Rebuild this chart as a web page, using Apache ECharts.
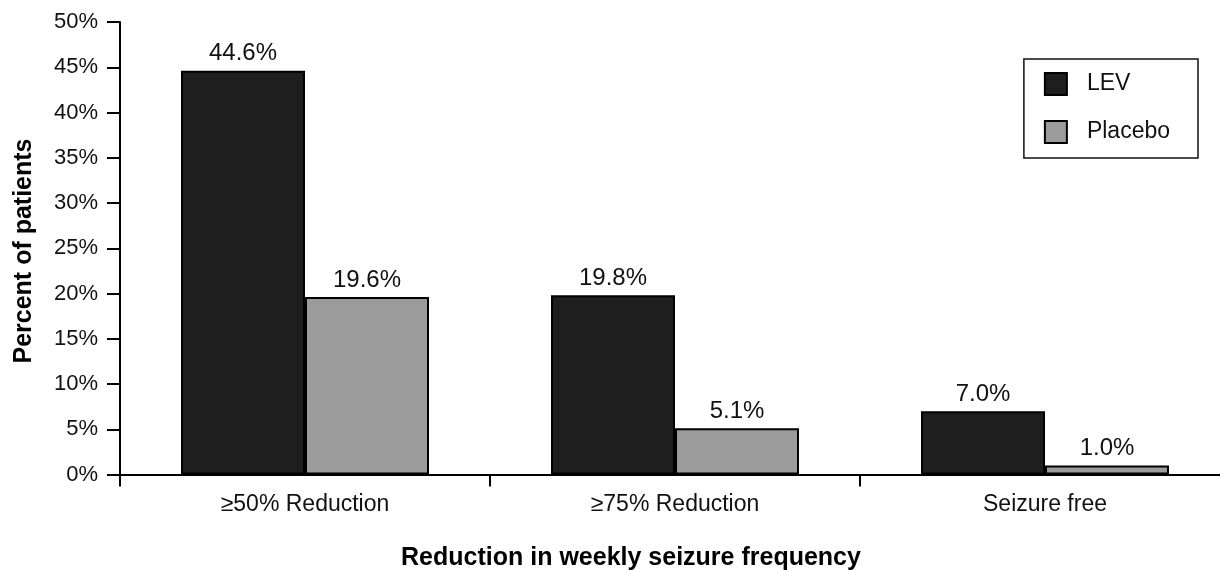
<!DOCTYPE html>
<html><head><meta charset="utf-8">
<script src="https://cdn.jsdelivr.net/npm/echarts@6/dist/echarts.min.js"></script>
<style>html,body{margin:0;padding:0;background:#fff;overflow:hidden;width:1220px;height:570px}#c{width:1230px;height:570px}</style>
</head><body><div id="c"></div>
<script>
const categories = ['≥50% Reduction', '≥75% Reduction', 'Seizure free'];
const levValues = [44.6, 19.8, 7.0];
const placeboValues = [19.6, 5.1, 1.0];
const seriesNames = ['LEV', 'Placebo'];
const yTicks = [0, 5, 10, 15, 20, 25, 30, 35, 40, 45, 50];
const yAxisTitle = 'Percent of patients';
const xAxisTitle = 'Reduction in weekly seizure frequency';

const F = '"Liberation Sans", Arial, Helvetica, sans-serif';
const chart = echarts.init(document.getElementById('c'));
const lbl = {show: true, position: 'top', distance: 5, color: '#111', fontFamily: F, fontSize: 24,
  formatter: p => p.value.toFixed(1) + '%'};
chart.setOption({
  animation: false,
  textStyle: {fontFamily: F},
  grid: {left: 120, right: 0, top: 22, bottom: 95.5, containLabel: false},
  legend: {
    data: seriesNames, orient: 'vertical', right: 32, top: 59,
    itemWidth: 22, itemHeight: 22, itemGap: 24,
    padding: [13, 28, 14, 20],
    borderColor: '#111', borderWidth: 1.5,
    textStyle: {fontSize: 23, color: '#111', fontFamily: F, padding: [0, 0, 0, 15]},
    icon: 'rect',
    itemStyle: {borderColor: '#000', borderWidth: 2}
  },
  xAxis: {
    type: 'category', data: categories,
    axisLine: {lineStyle: {color: '#000', width: 2}},
    axisTick: {show: true, length: 12, lineStyle: {width: 2, color: '#000'}},
    axisLabel: {fontSize: 23, color: '#111', margin: 19, fontFamily: F}
  },
  yAxis: {
    type: 'value', min: 0, max: 50, interval: 5,
    axisLine: {show: true, lineStyle: {color: '#000', width: 2}},
    axisTick: {show: true, length: 13, lineStyle: {width: 2, color: '#000'}},
    splitLine: {show: false},
    axisLabel: {fontSize: 22, color: '#111', margin: 22, fontFamily: F,
      formatter: v => yTicks.includes(v) ? v + '%' : ''}
  },
  graphic: [
    {type: 'text', x: 24, y: 251, rotation: Math.PI / 2,
     style: {text: yAxisTitle, font: 'bold 25px ' + F, fill: '#000', align: 'center', verticalAlign: 'middle'}},
    {type: 'text', x: 631, y: 558,
     style: {text: xAxisTitle, font: 'bold 25px ' + F, fill: '#000', align: 'center', verticalAlign: 'middle'}}
  ],
  series: [
    {name: seriesNames[0], type: 'bar', data: levValues, barWidth: 124, barGap: '0%',
     itemStyle: {color: '#1e1e1e', borderColor: '#000', borderWidth: 2}, label: lbl},
    {name: seriesNames[1], type: 'bar', data: placeboValues, barWidth: 124,
     itemStyle: {color: '#9b9b9b', borderColor: '#000', borderWidth: 2}, label: lbl}
  ]
});
</script></body></html>
